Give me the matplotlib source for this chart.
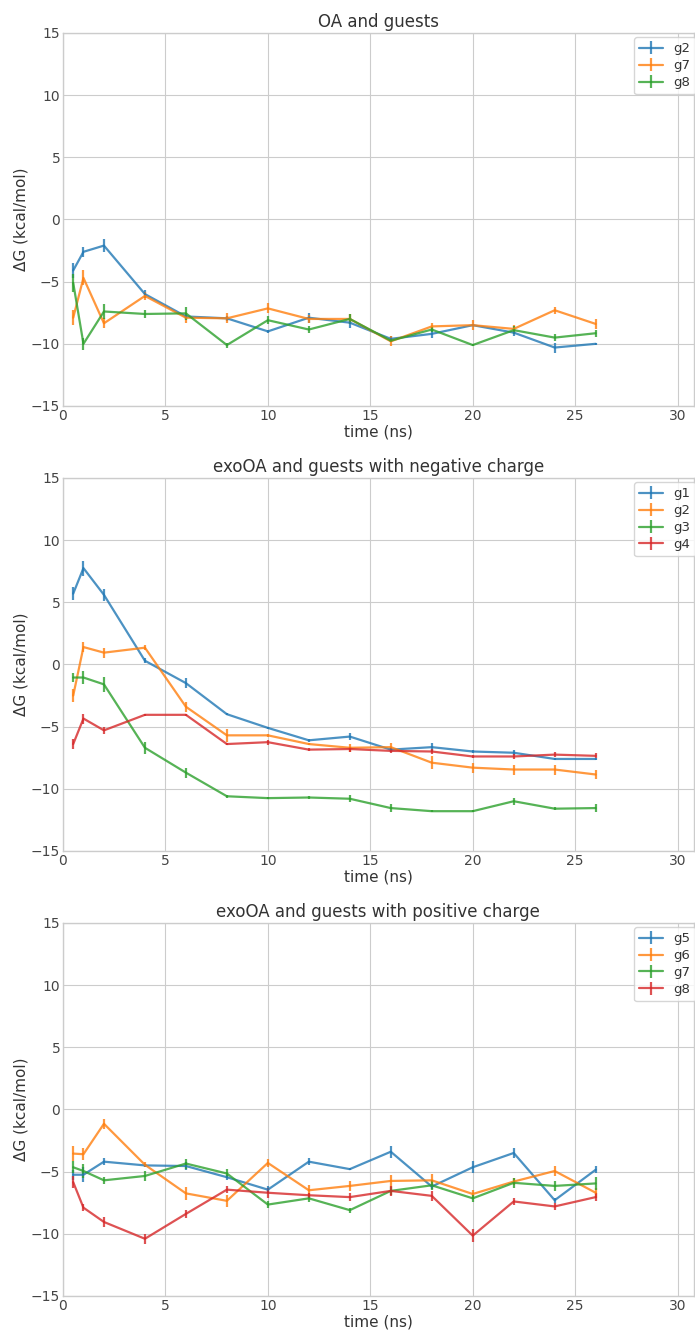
import matplotlib
matplotlib.use('Agg')
from matplotlib import pyplot as plt
import numpy as np

# time points (ns)
time = [0.5, 1, 2, 4, 6, 8, 10, 12, 14, 16, 18, 20, 22, 24, 26]

# OA and guests
oa_names = ['g2', 'g7', 'g8']
oa_g2 = [-4.1, -2.6, -2.1, -6.0, -7.8, -7.95, -9.0, -7.9, -8.3, -9.6, -9.2, -8.5, -9.1, -10.3, -10.0]
oa_g7 = [-7.9, -4.7, -8.35, -6.15, -7.9, -7.95, -7.15, -8.0, -8.0, -9.8, -8.6, -8.5, -8.8, -7.3, -8.4]
oa_g8 = [-5.1, -10.0, -7.4, -7.6, -7.55, -10.1, -8.1, -8.85, -8.0, -9.75, -8.85, -10.1, -8.9, -9.5, -9.15]
oa_g2_err = [0.6, 0.4, 0.5, 0.3, 0.2, 0.2, 0.1, 0.4, 0.4, 0.2, 0.3, 0.1, 0.3, 0.4, 0.1]
oa_g7_err = [0.6, 0.6, 0.4, 0.3, 0.4, 0.4, 0.4, 0.3, 0.4, 0.4, 0.3, 0.4, 0.3, 0.3, 0.4]
oa_g8_err = [0.7, 0.5, 0.6, 0.3, 0.5, 0.2, 0.3, 0.3, 0.4, 0.1, 0.2, 0.1, 0.3, 0.3, 0.3]

# exoOA, negative guests
neg_names = ['g1', 'g2', 'g3', 'g4']
neg_g1 = [5.7, 7.75, 5.6, 0.3, -1.5, -4.0, -5.1, -6.1, -5.8, -6.85, -6.65, -7.0, -7.1, -7.6, -7.6]
neg_g2 = [-2.5, 1.4, 0.95, 1.35, -3.4, -5.7, -5.7, -6.4, -6.7, -6.65, -7.9, -8.3, -8.45, -8.45, -8.85]
neg_g3 = [-1.05, -1.05, -1.6, -6.7, -8.7, -10.6, -10.75, -10.7, -10.8, -11.55, -11.8, -11.8, -11.0, -11.6, -11.55]
neg_g4 = [-6.4, -4.35, -5.3, -4.05, -4.05, -6.4, -6.25, -6.85, -6.8, -6.95, -7.0, -7.4, -7.4, -7.25, -7.35]
neg_g1_err = [0.5, 0.6, 0.5, 0.2, 0.4, 0.1, 0.1, 0.1, 0.3, 0.2, 0.3, 0.1, 0.2, 0.1, 0.1]
neg_g2_err = [0.5, 0.4, 0.4, 0.2, 0.4, 0.5, 0.1, 0.1, 0.3, 0.3, 0.5, 0.4, 0.4, 0.4, 0.4]
neg_g3_err = [0.4, 0.5, 0.6, 0.5, 0.4, 0.1, 0.1, 0.1, 0.3, 0.3, 0.1, 0.1, 0.3, 0.1, 0.3]
neg_g4_err = [0.4, 0.4, 0.3, 0.1, 0.1, 0.1, 0.2, 0.1, 0.2, 0.2, 0.2, 0.1, 0.2, 0.2, 0.2]

# exoOA, positive guests
pos_names = ['g5', 'g6', 'g7', 'g8']
pos_g5 = [-5.25, -5.25, -4.2, -4.5, -4.55, -5.45, -6.45, -4.2, -4.8, -3.4, -6.2, -4.65, -3.5, -7.3, -4.85]
pos_g6 = [-3.55, -3.6, -1.15, -4.45, -6.75, -7.35, -4.3, -6.5, -6.15, -5.75, -5.7, -6.8, -5.8, -4.95, -6.7]
pos_g7 = [-4.65, -4.95, -5.7, -5.35, -4.35, -5.15, -7.65, -7.15, -8.1, -6.55, -6.1, -7.15, -5.9, -6.15, -5.95]
pos_g8 = [-5.85, -7.9, -9.05, -10.4, -8.4, -6.45, -6.7, -6.9, -7.05, -6.55, -6.95, -10.15, -7.4, -7.8, -7.05]
pos_g5_err = [0.4, 0.6, 0.3, 0.1, 0.3, 0.2, 0.3, 0.3, 0.1, 0.5, 0.2, 0.5, 0.4, 0.2, 0.3]
pos_g6_err = [0.6, 0.5, 0.4, 0.2, 0.5, 0.5, 0.3, 0.4, 0.4, 0.5, 0.5, 0.3, 0.3, 0.4, 0.4]
pos_g7_err = [0.5, 0.6, 0.3, 0.4, 0.4, 0.4, 0.3, 0.3, 0.2, 0.3, 0.4, 0.3, 0.4, 0.4, 0.5]
pos_g8_err = [0.5, 0.3, 0.4, 0.4, 0.3, 0.3, 0.4, 0.2, 0.3, 0.4, 0.4, 0.5, 0.3, 0.3, 0.3]

panels = [
    ('OA and guests', oa_names, [oa_g2, oa_g7, oa_g8], [oa_g2_err, oa_g7_err, oa_g8_err]),
    ('exoOA and guests with negative charge', neg_names,
     [neg_g1, neg_g2, neg_g3, neg_g4], [neg_g1_err, neg_g2_err, neg_g3_err, neg_g4_err]),
    ('exoOA and guests with positive charge', pos_names,
     [pos_g5, pos_g6, pos_g7, pos_g8], [pos_g5_err, pos_g6_err, pos_g7_err, pos_g8_err]),
]

plt.style.use('seaborn-v0_8-whitegrid')
plt.rcParams['font.family'] = ['DejaVu Sans']
plt.rcParams['text.color'] = '#333333'
plt.rcParams['axes.labelcolor'] = '#333333'
plt.rcParams['xtick.color'] = '#444444'
plt.rcParams['ytick.color'] = '#444444'
colors = ['#1f77b4', '#ff7f0e', '#2ca02c', '#d62728']

fig, axes = plt.subplots(nrows=3, ncols=1, figsize=(6.95, 13.3), dpi=100)
fig.subplots_adjust(left=0.0906, right=0.998, top=0.9752, bottom=0.0256, hspace=0.193)

for ax, (title, names, series, errs) in zip(axes, panels):
    for k, (name, y, e) in enumerate(zip(names, series, errs)):
        ax.errorbar(time, y, yerr=e, label=name, color=colors[k], alpha=0.8,
                    linewidth=1.6, elinewidth=1.6)
    ax.set_xlim(0, 30.78)
    ax.set_ylim(-15, 15)
    ax.set_xticks([0, 5, 10, 15, 20, 25, 30])
    ax.set_yticks([-15, -10, -5, 0, 5, 10, 15])
    ax.tick_params(labelsize=10, pad=2)
    ax.set_title(title, fontsize=12, pad=4)
    ax.set_xlabel('time (ns)', fontsize=11, labelpad=1)
    ax.set_ylabel('ΔG (kcal/mol)', fontsize=11, labelpad=2)
    ax.legend(loc='upper right', frameon=True, fontsize=9.5, borderaxespad=0.3,
              labelspacing=0.3, handlelength=1.8, bbox_to_anchor=(1.01, 1.0))

plt.savefig('out.png', dpi=100)
